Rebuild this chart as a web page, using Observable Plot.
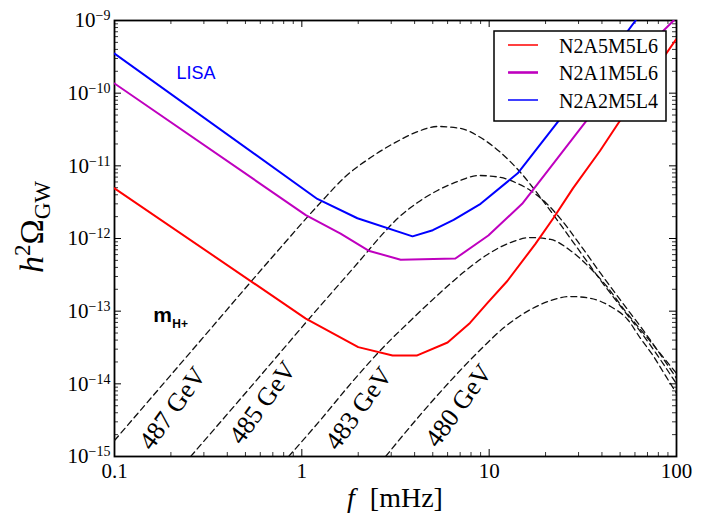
<!DOCTYPE html>
<html><head><meta charset="utf-8">
<script src="https://cdn.jsdelivr.net/npm/d3@7"></script>
<script src="https://cdn.jsdelivr.net/npm/@observablehq/plot@0.6"></script>
<style>
body{margin:0;background:#fff}
#chart{position:relative;width:707px;height:525px}
</style>
</head><body><div id="chart"></div>
<script>
// ---- axis ticks / labels ----
const xMajor = [0.1, 1, 10, 100];
const xTickLabels = ["0.1", "1", "10", "100"];
const yMajor = [1e-15, 1e-14, 1e-13, 1e-12, 1e-11, 1e-10, 1e-9];

// ---- sensitivity curves (solid) ----
const seriesNames = ["N2A5M5L6", "N2A1M5L6", "N2A2M5L4"];
const seriesColors = ["#ff0000", "#bf00bf", "#0000ff"];
const seriesLegendWidth = [1.5, 2.6, 1.5];

const redF = [0.1, 1.05, 2.0, 3.05, 4.1, 6.0, 7.9, 9.8, 12.5, 17.7, 22, 28, 39, 50, 70, 100];
const redOmega = [4.9e-12, 7.9e-14, 3.2e-14, 2.45e-14, 2.45e-14, 3.7e-14, 6.9e-14, 1.3e-13, 2.6e-13, 8.5e-13, 1.9e-12, 4.9e-12, 1.6e-11, 4.2e-11, 1.5e-10, 5.6e-10];

const magentaF = [0.1, 1.05, 1.61, 2.27, 3.37, 6.6, 9.9, 15, 22, 34.7, 57, 96.6];
const magentaOmega = [1.36e-10, 2.1e-12, 1.17e-12, 6.8e-13, 5.1e-13, 5.3e-13, 1.1e-12, 3.0e-12, 1.07e-11, 4.9e-11, 2.6e-10, 1e-9];

const blueF = [0.1, 1.21, 1.98, 3.9, 5.0, 6.46, 9.0, 14.2, 23.2, 36, 60.5];
const blueOmega = [3.5e-10, 3.5e-12, 1.9e-12, 1.07e-12, 1.3e-12, 1.8e-12, 3.0e-12, 7.9e-12, 4.0e-11, 1.65e-10, 1e-9];

// ---- GW spectra (dashed) ----
const gw487F = [0.1, 0.288, 0.77, 1.26, 1.71, 2.33, 3.16, 4.05, 5.3, 7.03, 9.0, 11.5, 14.7, 18.8, 24.0, 30.8, 39.4, 50.4, 68.4, 100];
const gw487Omega = [1.66e-15, 3.95e-14, 7.5e-13, 3.13e-12, 7.13e-12, 1.30e-11, 2.1e-11, 2.88e-11, 3.48e-11, 3.27e-11, 2.45e-11, 1.53e-11, 8.1e-12, 3.67e-12, 1.56e-12, 6.4e-13, 2.64e-13, 1.16e-13, 4.2e-14, 1.0e-14];

const gw485F = [0.255, 0.602, 1.26, 2.11, 2.63, 3.24, 4.15, 5.3, 6.78, 8.77, 11.5, 14.2, 16.6, 20.0, 24.0, 30.8, 39.4, 50.4, 68.4, 100];
const gw485Omega = [1e-15, 1.3e-14, 1.2e-13, 5.5e-13, 1.07e-12, 1.88e-12, 3.13e-12, 4.58e-12, 6.09e-12, 7.36e-12, 6.92e-12, 5.7e-12, 4.58e-12, 3.13e-12, 1.88e-12, 8.0e-13, 3.3e-13, 1.40e-13, 4.93e-14, 1.19e-14];

const gw483F = [0.85, 1.26, 1.82, 2.63, 3.80, 5.50, 7.48, 9.8, 13.0, 16.6, 21.3, 27.2, 34.8, 42.9, 53.0, 68.4, 100];
const gw483Omega = [1e-15, 3.2e-15, 1.0e-14, 2.9e-14, 7.4e-14, 1.81e-13, 3.6e-13, 6.03e-13, 8.8e-13, 1.03e-12, 9.7e-13, 6.8e-13, 3.86e-13, 2.12e-13, 1.02e-13, 4.6e-14, 1.39e-14];

const gw480F = [2.80, 4.31, 6.22, 9.0, 12.2, 16.6, 21.3, 27.2, 34.8, 44.5, 54.8, 64.3, 75.5, 85.3, 100];
const gw480Omega = [1e-15, 3.8e-15, 1.1e-14, 2.97e-14, 6.15e-14, 1.05e-13, 1.40e-13, 1.59e-13, 1.50e-13, 1.16e-13, 7.69e-14, 4.2e-14, 2.38e-14, 1.43e-14, 7.4e-15];

// ---- annotations ----
const gevLabels = ["487 GeV", "485 GeV", "483 GeV", "480 GeV"];
const gevLabelF = [0.204, 0.617, 2.01, 6.87];
const gevLabelOmega = [4.6e-15, 5.5e-15, 4.6e-15, 5.0e-15];
const lisaText = ["LISA"];
const lisaF = [0.214];
const lisaOmega = [1.59e-10];
const massText = ["m"];
const massSub = ["H+"];
const massF = [0.161];
const massOmega = [7.0e-14];

// ---- build tables ----
const toRows = (fs, os) => fs.map((f, i) => ({f, o: os[i]}));
const solid = [toRows(redF, redOmega), toRows(magentaF, magentaOmega), toRows(blueF, blueOmega)];
const dashed = [toRows(gw487F, gw487Omega), toRows(gw485F, gw485Omega), toRows(gw483F, gw483Omega), toRows(gw480F, gw480Omega)];
const gevRows = gevLabels.map((t, i) => ({t, f: gevLabelF[i], o: gevLabelOmega[i]}));

const xMinor = [];
for (const d of [0.1, 1, 10]) for (let k = 2; k <= 9; k++) xMinor.push(+(d * k).toPrecision(3));
const yMinor = [];
for (let e = -15; e < -9; e++) for (let k = 2; k <= 9; k++) yMinor.push(k * Math.pow(10, e));

const W = 707, H = 525, mL = 114, mR = 31, mT = 20, mB = 69;
const iw = W - mL - mR, ih = H - mT - mB;
const serif = "'Liberation Serif', 'DejaVu Serif', serif";
const sans = "'Liberation Sans', Arial, sans-serif";

const marks = [
  Plot.frame({stroke: "black", strokeWidth: 1.8}),
  // inward ticks, all four sides
  Plot.ruleX(xMajor, {insetTop: ih - 7, stroke: "black", strokeWidth: 1}),
  Plot.ruleX(xMajor, {insetBottom: ih - 7, stroke: "black", strokeWidth: 1}),
  Plot.ruleX(xMinor, {insetTop: ih - 4, stroke: "black", strokeWidth: 0.8}),
  Plot.ruleX(xMinor, {insetBottom: ih - 4, stroke: "black", strokeWidth: 0.8}),
  Plot.ruleY(yMajor, {insetRight: iw - 7, stroke: "black", strokeWidth: 1}),
  Plot.ruleY(yMajor, {insetLeft: iw - 7, stroke: "black", strokeWidth: 1}),
  Plot.ruleY(yMinor, {insetRight: iw - 4, stroke: "black", strokeWidth: 0.8}),
  Plot.ruleY(yMinor, {insetLeft: iw - 4, stroke: "black", strokeWidth: 0.8}),
  Plot.axisX(xMajor, {tickSize: 0, tickPadding: 7, label: null, fontSize: 21, fontFamily: serif,
    tickFormat: d => xTickLabels[xMajor.indexOf(d)]}),
  Plot.axisY(yMajor, {tickSize: 0, tickPadding: 4, label: null, fontSize: 21, fontFamily: serif,
    tickFormat: d => "10^" + Math.round(Math.log10(d))}),
  ...dashed.map(rows => Plot.line(rows, {x: "f", y: "o", stroke: "#111", strokeWidth: 1.3,
    strokeDasharray: "6,4", curve: "monotone-x", clip: true})),
  ...solid.map((rows, i) => Plot.line(rows, {x: "f", y: "o", stroke: seriesColors[i], strokeWidth: 2, clip: true})),
  Plot.text(gevRows, {x: "f", y: "o", text: "t", rotate: -54, fontSize: 26, fontFamily: serif,
    textAnchor: "middle", lineAnchor: "middle", fill: "black"}),
  Plot.text(lisaText, {x: lisaF, y: lisaOmega, text: d => d, fill: "#0000ff", fontFamily: sans,
    fontSize: 18, textAnchor: "start", lineAnchor: "bottom"}),
  Plot.text(massText, {x: massF, y: massOmega, text: d => d, fill: "black", fontFamily: sans,
    fontWeight: "bold", fontSize: 21, textAnchor: "start", lineAnchor: "bottom"}),
  Plot.text(massSub, {x: massF, y: massOmega, text: d => d, fill: "black", fontFamily: sans,
    fontWeight: "bold", fontSize: 12, textAnchor: "start", lineAnchor: "bottom", dx: 19, dy: 6})
];

const chart = Plot.plot({
  width: W, height: H,
  marginLeft: mL, marginRight: mR, marginTop: mT, marginBottom: mB,
  x: {type: "log", domain: [0.1, 100]},
  y: {type: "log", domain: [1e-15, 1e-9]},
  style: {background: "white", fontFamily: serif, color: "black"},
  marks
});
document.getElementById("chart").appendChild(chart);

const svg = d3.select(chart);
// superscript powers on y tick labels
svg.selectAll('g[aria-label="y-axis tick label"] text').each(function() {
  const s = this.textContent;
  if (!s.includes("^")) return;
  const [base, exp] = s.split("^");
  const t = d3.select(this);
  t.text(null);
  t.append("tspan").text(base);
  t.append("tspan").attr("dy", "-0.5em").attr("font-size", "14px").text(exp.replace("-", "\u2212"));
});

// y axis title  h^2 Ω_GW
const yl = svg.append("text")
  .attr("transform", `translate(43,227) rotate(-90)`)
  .attr("text-anchor", "middle").style("font-family", serif).attr("font-size", 34).attr("fill", "black");
yl.append("tspan").attr("font-style", "italic").text("h");
yl.append("tspan").attr("font-size", 23).attr("dy", -13).text("2");
yl.append("tspan").attr("dy", 13).text("\u03A9");
yl.append("tspan").attr("font-size", 23).attr("dy", 7).text("GW");

// x axis title  f [mHz]
const xl = svg.append("text")
  .attr("x", mL + iw / 2).attr("y", 507)
  .attr("text-anchor", "middle").style("font-family", serif).attr("font-size", 28).attr("fill", "black");
xl.append("tspan").attr("font-style", "italic").text("f");
xl.append("tspan").attr("dx", 15).text("[mHz]");

// legend
const lg = svg.append("g");
lg.append("rect").attr("x", 494).attr("y", 31).attr("width", 172).attr("height", 90)
  .attr("fill", "white").attr("stroke", "black").attr("stroke-width", 1.5);
const rowY = [45, 72.5, 100];
seriesNames.forEach((name, i) => {
  lg.append("line").attr("x1", 508).attr("x2", 538).attr("y1", rowY[i]).attr("y2", rowY[i])
    .attr("stroke", seriesColors[i]).attr("stroke-width", seriesLegendWidth[i]);
  lg.append("text").attr("x", 559).attr("y", rowY[i] + 7.5)
    .style("font-family", serif).style("font-size", "20px")
    .attr("text-anchor", "start").attr("fill", "black").text(name);
});
</script>
</body></html>
